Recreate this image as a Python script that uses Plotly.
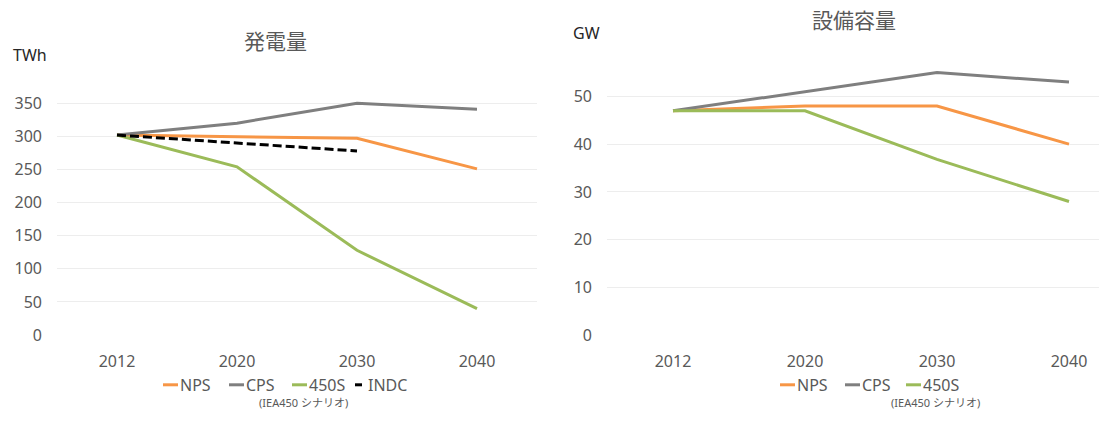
import plotly.graph_objects as go

W, H = 1099, 426

# ---- data ----
years = ["2012", "2020", "2030", "2040"]

gen_nps = [302, 299, 297, 251]
gen_cps = [302, 320, 350, 341]
gen_450s = [302, 254, 128, 40]
gen_indc = [302, 290, 278, None]

cap_nps = [47, 48, 48, 40]
cap_cps = [47, 51, 55, 53]
cap_450s = [47, 47, 36.8, 28]

gen_ticks = [0, 50, 100, 150, 200, 250, 300, 350, 400]
gen_ticktext = ["0", "50", "100", "150", "200", "250", "300", "350", ""]
cap_ticks = [0, 10, 20, 30, 40, 50, 60]
cap_ticktext = ["0", "10", "20", "30", "40", "50", ""]

series_names = ["NPS", "CPS", "450S", "INDC"]
colors = {"NPS": "#F79646", "CPS": "#7F7F7F", "450S": "#9BBB59", "INDC": "#000000"}

FONT = "Noto Sans, Noto Sans CJK JP, sans-serif"
GRAY = "#595959"


def px(x):
    return x / W


def py(y):
    return 1 - y / H


fig = go.Figure()

for name, vals in [("NPS", gen_nps), ("CPS", gen_cps), ("450S", gen_450s)]:
    fig.add_trace(go.Scatter(x=years, y=vals, mode="lines", name=name,
                             line=dict(color=colors[name], width=3),
                             xaxis="x", yaxis="y", showlegend=False))
fig.add_trace(go.Scatter(x=years, y=gen_indc, mode="lines", name="INDC",
                         line=dict(color=colors["INDC"], width=3, dash="9px,4px"),
                         xaxis="x", yaxis="y", showlegend=False))

for name, vals in [("NPS", cap_nps), ("CPS", cap_cps), ("450S", cap_450s)]:
    fig.add_trace(go.Scatter(x=years, y=vals, mode="lines", name=name,
                             line=dict(color=colors[name], width=3),
                             xaxis="x2", yaxis="y2", showlegend=False))

axis_common = dict(showline=False, zeroline=False, ticks="",
                   tickfont=dict(family=FONT, size=16, color=GRAY))

fig.update_layout(
    autosize=True,
    margin=dict(l=0, r=0, t=0, b=0, pad=0),
    paper_bgcolor="white", plot_bgcolor="white",
    font=dict(family=FONT, color=GRAY),
    xaxis=dict(domain=[px(57), px(537)], type="category", range=[-0.5, 3.5],
               showgrid=False, anchor="y", ticklabelstandoff=15, **axis_common),
    yaxis=dict(domain=[py(344), py(72)], range=[0, 400], tickvals=gen_ticks,
               ticktext=gen_ticktext, showgrid=True, gridcolor="#EDEDED",
               gridwidth=1, anchor="x", ticklabelstandoff=14, **axis_common),
    xaxis2=dict(domain=[px(607), 1.0], type="category",
                range=[-0.5, -0.5 + (W - 607) / 132.0],
                showgrid=False, anchor="y2", ticklabelstandoff=15, **axis_common),
    yaxis2=dict(domain=[py(344), py(50)], range=[0, 60], tickvals=cap_ticks,
                ticktext=cap_ticktext, showgrid=True, gridcolor="#EDEDED",
                gridwidth=1, anchor="x2", ticklabelstandoff=14, **axis_common),
)

ann = []
shapes = []

# titles
ann.append(dict(text="発電量", x=px(275), y=py(42), xref="paper", yref="paper",
                showarrow=False, font=dict(family=FONT, size=21, color=GRAY),
                xanchor="center", yanchor="middle"))
ann.append(dict(text="設備容量", x=px(854), y=py(21), xref="paper", yref="paper",
                showarrow=False, font=dict(family=FONT, size=21, color=GRAY),
                xanchor="center", yanchor="middle"))
# units
ann.append(dict(text="TWh", x=px(11), y=py(56), xref="paper", yref="paper",
                showarrow=False, font=dict(family=FONT, size=16, color="#262626"),
                xanchor="left", yanchor="middle"))
ann.append(dict(text="GW", x=px(571), y=py(34), xref="paper", yref="paper",
                showarrow=False, font=dict(family=FONT, size=16, color="#262626"),
                xanchor="left", yanchor="middle"))

# unit text boxes hide the start of the top gridline
shapes.append(dict(type="rect", xref="paper", yref="paper", x0=px(56), x1=px(88),
                   y0=py(75), y1=py(69), fillcolor="white", line=dict(width=0),
                   layer="between"))
shapes.append(dict(type="rect", xref="paper", yref="paper", x0=px(606), x1=px(655),
                   y0=py(53), y1=py(47), fillcolor="white", line=dict(width=0),
                   layer="between"))

# legends (swatch + text)
LEG_Y = 395


def legend_entry(name, x0, x1, tx):
    shapes.append(dict(type="line", xref="paper", yref="paper",
                       x0=px(x0), x1=px(x1), y0=py(LEG_Y), y1=py(LEG_Y),
                       line=dict(color=colors[name], width=3)))
    ann.append(dict(text=name, x=px(tx), y=py(LEG_Y), xref="paper", yref="paper",
                    showarrow=False, font=dict(family=FONT, size=16, color=GRAY),
                    xanchor="left", yanchor="middle"))


legend_entry("NPS", 163, 178, 178)
legend_entry("CPS", 229, 244, 244)
legend_entry("450S", 292, 307, 307)
legend_entry("INDC", 355, 362, 366)

legend_entry("NPS", 780, 795, 795)
legend_entry("CPS", 845, 860, 860)
legend_entry("450S", 906, 921, 921)

for cx in (303, 935):
    ann.append(dict(text="(IEA450 シナリオ)", x=px(cx), y=py(413), xref="paper",
                    yref="paper", showarrow=False,
                    font=dict(family=FONT, size=11, color=GRAY),
                    xanchor="center", yanchor="middle"))

fig.update_layout(annotations=ann, shapes=shapes)

fig.write_html(
    "out.html",
    config={"displayModeBar": False, "responsive": True},
    default_width="100vw",
    default_height="100vh",
    post_script=(
        "document.documentElement.style.margin='0';"
        "document.documentElement.style.overflow='hidden';"
        "document.body.style.margin='0';"
        "document.body.style.overflow='hidden';"
        "Plotly.Plots.resize(document.getElementById('{plot_id}'));"
    ),
)
